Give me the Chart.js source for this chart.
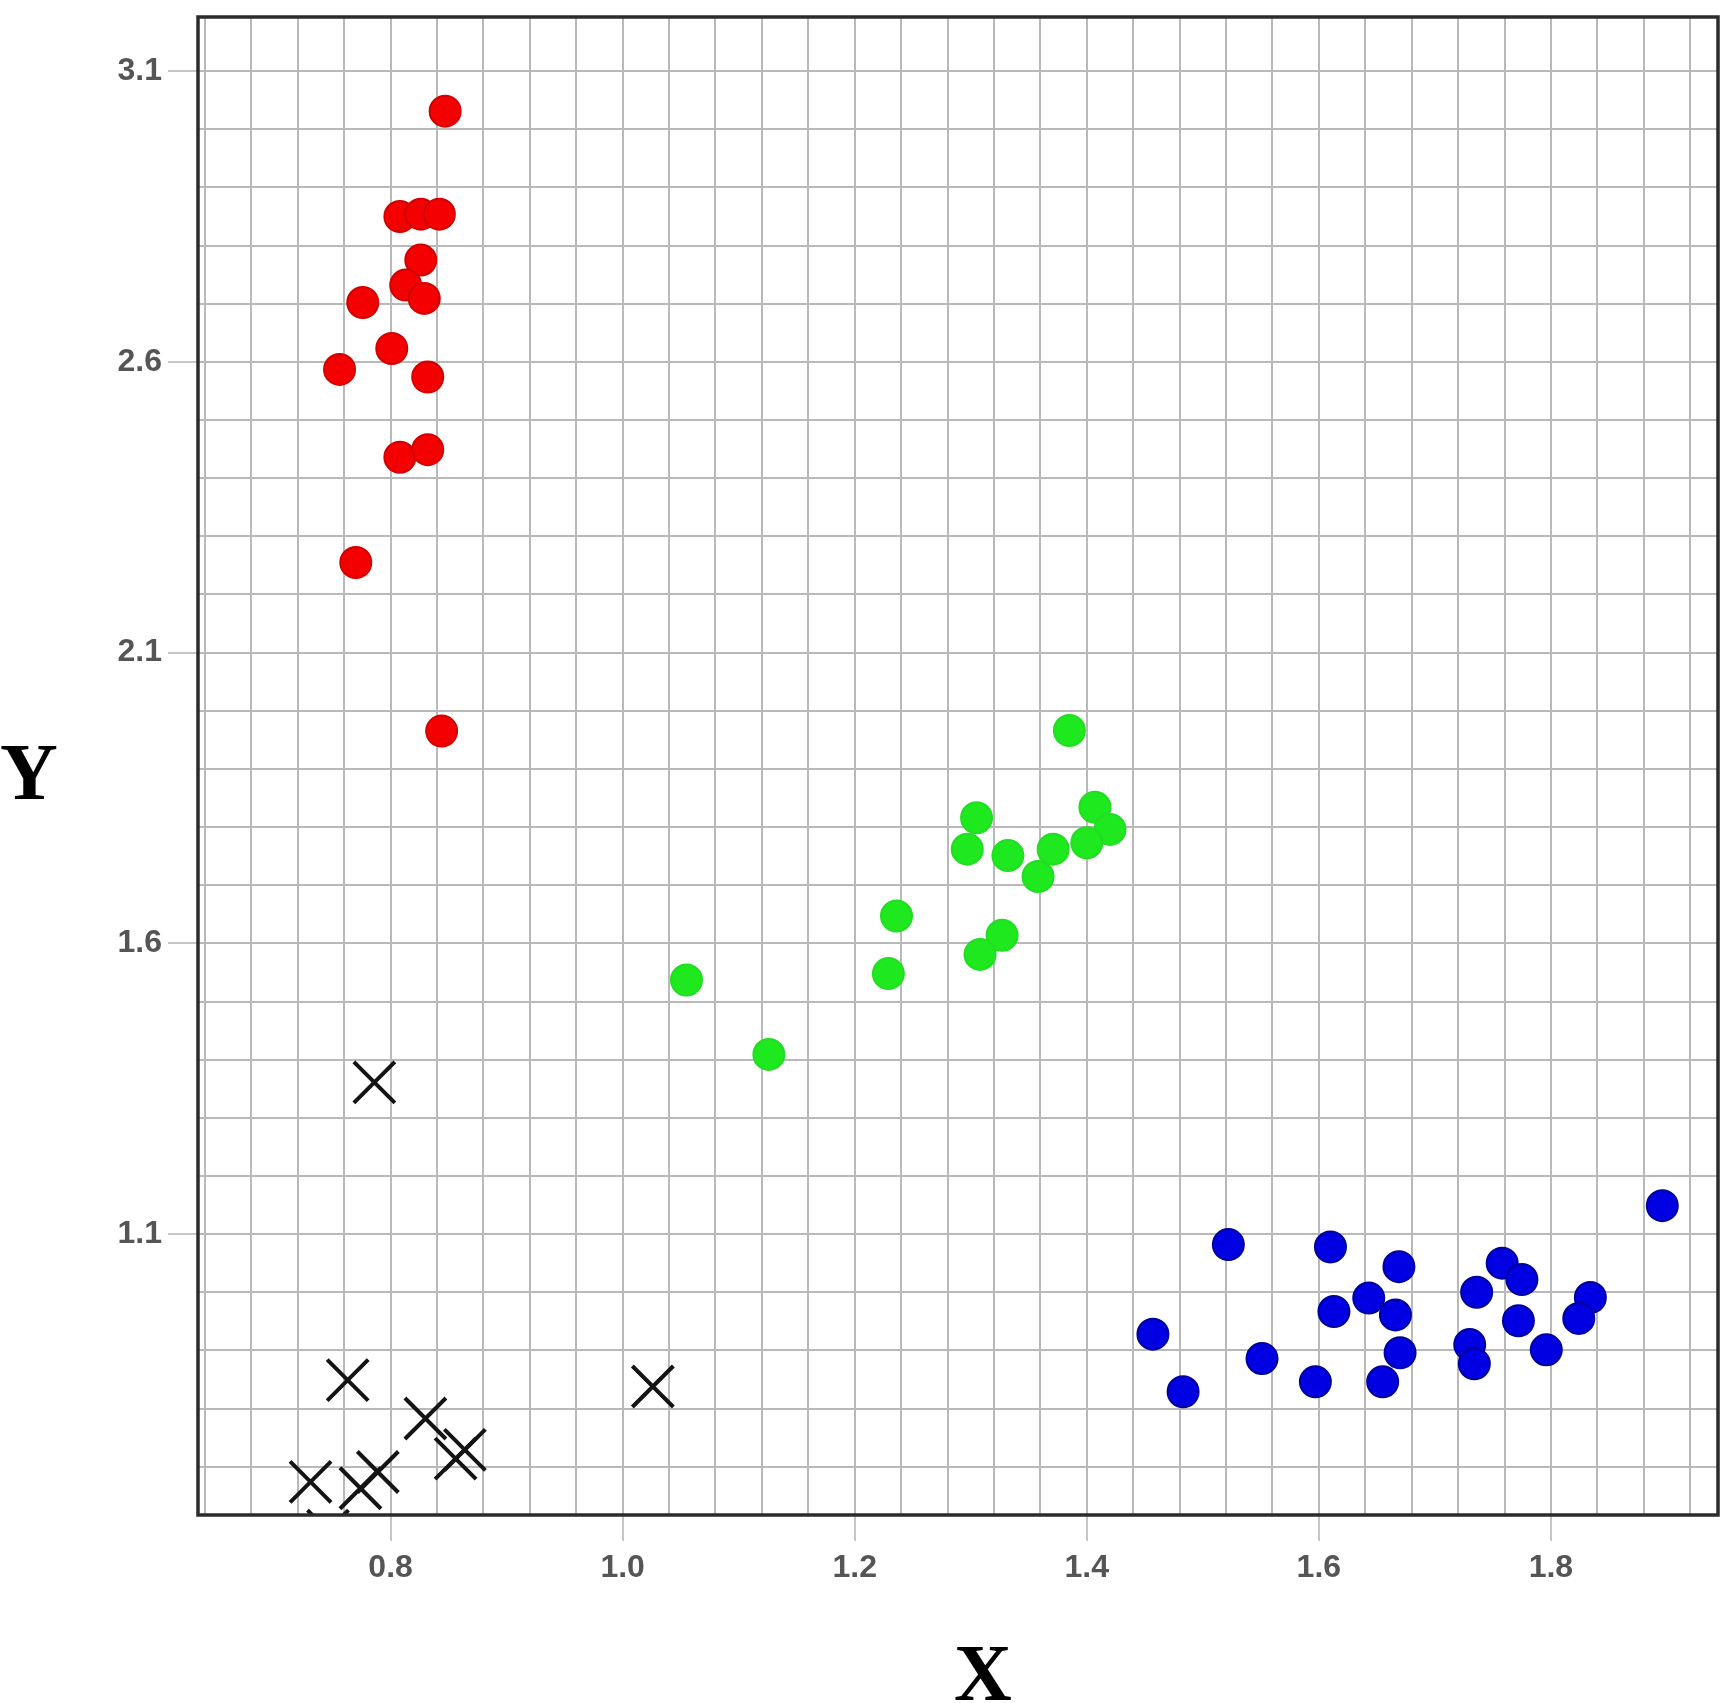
<!DOCTYPE html>
<html>
<head>
<meta charset="utf-8">
<title>Clusters</title>
<script src="https://cdn.jsdelivr.net/npm/chart.js@4.4.1/dist/chart.umd.min.js"></script>
<style>
  html, body { margin: 0; padding: 0; background: #fff; }
  #wrap { position: relative; width: 1732px; height: 1703px; }
  .axis-name {
    position: absolute;
    width: 100px;
    text-align: center;
    font: bold 80px "Liberation Serif", "Times New Roman", serif;
    line-height: 80px;
    color: #000;
  }
</style>
</head>
<body>
<div id="wrap">
  <canvas id="chart"></canvas>
  <div class="axis-name" style="left:-21px; top:732px;">Y</div>
  <div class="axis-name" style="left:933px; top:1633px;">X</div>
</div>
<script>
// axis ranges and grid
const xMin = 0.634, xMax = 1.944;
const yMin = 0.617, yMax = 3.193;
const xGridStep = 0.04;
const yGridStep = 0.1;
const xTickLabels = [0.8, 1.0, 1.2, 1.4, 1.6, 1.8];
const yTickLabels = [1.1, 1.6, 2.1, 2.6, 3.1];

// red cluster
const redX = [0.847, 0.808, 0.826, 0.842, 0.826, 0.813, 0.829, 0.776, 0.801, 0.756, 0.832, 0.808, 0.832, 0.770, 0.844];
const redY = [3.031, 2.850, 2.854, 2.854, 2.775, 2.732, 2.709, 2.702, 2.623, 2.587, 2.574, 2.436, 2.449, 2.255, 1.965];

// green cluster
const greenX = [1.385, 1.305, 1.407, 1.420, 1.297, 1.332, 1.371, 1.400, 1.358, 1.236, 1.327, 1.308, 1.229, 1.055, 1.126];
const greenY = [1.966, 1.816, 1.834, 1.796, 1.762, 1.751, 1.762, 1.773, 1.715, 1.647, 1.614, 1.581, 1.548, 1.537, 1.409];

// blue cluster
const blueX = [1.896, 1.522, 1.610, 1.669, 1.758, 1.775, 1.736, 1.643, 1.834, 1.613, 1.666, 1.824, 1.772, 1.457, 1.730, 1.670, 1.796, 1.734, 1.551, 1.597, 1.655, 1.483];
const blueY = [1.149, 1.082, 1.078, 1.044, 1.050, 1.022, 1.000, 0.990, 0.991, 0.967, 0.961, 0.955, 0.951, 0.928, 0.910, 0.896, 0.901, 0.877, 0.886, 0.846, 0.846, 0.829];

// black crosses (last one sits just under the axis, only its tips show)
const crossX = [0.786, 0.763, 1.026, 0.830, 0.864, 0.856, 0.731, 0.789, 0.774, 0.746];
const crossY = [1.361, 0.849, 0.838, 0.783, 0.729, 0.714, 0.674, 0.691, 0.663, 0.590];

function pts(xs, ys) {
  return xs.map((x, i) => ({ x: x, y: ys[i] }));
}

function gridValues(min, max, step) {
  const out = [];
  for (let k = Math.ceil(min / step - 1e-9); k * step <= max + 1e-9; k++) {
    out.push(Math.round(k * step * 1e6) / 1e6);
  }
  return out;
}

function isLabeled(v, list) {
  return list.some(t => Math.abs(t - v) < 1e-6);
}

// keep the plot box where the layout padding puts it
function noScalePadding(s) {
  s.paddingTop = 0;
  s.paddingBottom = 0;
  s.paddingLeft = 0;
  s.paddingRight = 0;
}

const tickFont = { family: '"Liberation Sans", Arial, sans-serif', size: 32, weight: 'bold', lineHeight: 1 };

// box around the plot area
const frame = {
  id: 'frame',
  afterDatasetsDraw(chart) {
    const { ctx, chartArea: a } = chart;
    ctx.save();
    ctx.strokeStyle = '#2b2b2b';
    ctx.lineWidth = 3.5;
    ctx.strokeRect(a.left, a.top, a.right - a.left, a.bottom - a.top);
    ctx.restore();
  }
};

const circle = (data, fill, edge) => ({
  data: data,
  pointStyle: 'circle',
  pointRadius: 15.5,
  pointHoverRadius: 15.5,
  pointBackgroundColor: fill,
  pointBorderColor: edge,
  pointBorderWidth: 2,
  pointHoverBorderWidth: 2
});

new Chart(document.getElementById('chart'), {
  type: 'scatter',
  data: {
    datasets: [
      circle(pts(redX, redY), '#f40000', '#d20000'),
      circle(pts(greenX, greenY), '#1ee81e', '#22dd22'),
      circle(pts(blueX, blueY), '#0000e2', '#00009a'),
      {
        data: pts(crossX, crossY),
        pointStyle: 'crossRot',
        pointRadius: 29,
        pointHoverRadius: 29,
        pointBorderColor: '#141414',
        pointBorderWidth: 4,
        pointHoverBorderWidth: 4,
        clip: 0
      }
    ]
  },
  options: {
    responsive: true,
    maintainAspectRatio: false,
    animation: false,
    events: [],
    layout: {
      autoPadding: false,
      padding: { top: 17, right: 14, bottom: 0, left: 0 }
    },
    plugins: {
      legend: { display: false },
      tooltip: { enabled: false }
    },
    scales: {
      x: {
        type: 'linear',
        min: xMin,
        max: xMax,
        afterBuildTicks: s => { s.ticks = gridValues(xMin, xMax, xGridStep).map(v => ({ value: v })); },
        afterFit: s => { s.height = 188; noScalePadding(s); },
        border: { display: false },
        grid: {
          color: '#b9b9b9',
          lineWidth: 2,
          tickLength: 26,
          tickWidth: 2,
          tickColor: c => isLabeled(c.tick.value, xTickLabels) ? '#c6c6c6' : 'rgba(0,0,0,0)'
        },
        ticks: {
          autoSkip: false,
          maxRotation: 0,
          padding: 11,
          color: '#555',
          font: tickFont,
          callback: v => isLabeled(v, xTickLabels) ? v.toFixed(1) : ''
        }
      },
      y: {
        type: 'linear',
        min: yMin,
        max: yMax,
        afterBuildTicks: s => { s.ticks = gridValues(yMin, yMax, yGridStep).map(v => ({ value: v })); },
        afterFit: s => { s.width = 198; noScalePadding(s); },
        border: { display: false },
        grid: {
          color: '#b9b9b9',
          lineWidth: 2,
          tickLength: 30,
          tickWidth: 2,
          tickColor: c => isLabeled(c.tick.value, yTickLabels) ? '#c6c6c6' : 'rgba(0,0,0,0)'
        },
        ticks: {
          autoSkip: false,
          padding: 6,
          color: '#555',
          font: tickFont,
          callback: v => isLabeled(v, yTickLabels) ? v.toFixed(1) : ''
        }
      }
    }
  },
  plugins: [frame]
});
</script>
</body>
</html>
